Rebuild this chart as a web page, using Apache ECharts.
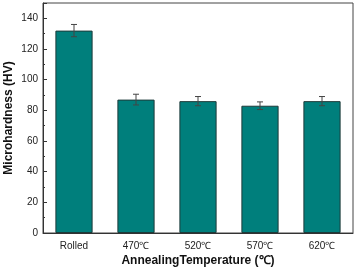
<!DOCTYPE html>
<html><head><meta charset="utf-8">
<script src="https://cdn.jsdelivr.net/npm/echarts@6/dist/echarts.min.js"></script>
<style>html,body{margin:0;padding:0;background:#fff}#c{width:357px;height:269px}</style>
</head><body><div id="c"></div>
<script>
const categories = ['Rolled', '470℃', '520℃', '570℃', '620℃'];
const hardness = [132, 87, 86, 83, 86];
const errors = [4, 3.5, 3, 2.5, 3];
const yTicks = [0, 20, 40, 60, 80, 100, 120, 140];

const chart = echarts.init(document.getElementById('c'));
const errData = categories.map((c, i) => [i, hardness[i] - errors[i], hardness[i] + errors[i]]);
chart.setOption({
  animation: false,
  grid: { left: 43, right: 4, top: 3, bottom: 36, show: true, borderColor: '#444', borderWidth: 1,
          outerBoundsMode: 'none', containLabel: false },
  xAxis: {
    type: 'category', data: categories,
    axisLine: { lineStyle: { color: '#333', width: 1 } },
    axisTick: { show: false },
    axisLabel: { color: '#222', fontSize: 10, fontFamily: 'Liberation Sans, Arial', margin: 8 },
    name: 'AnnealingTemperature (℃)', nameLocation: 'middle', nameGap: 22, nameMoveOverlap: false,
    nameTextStyle: { fontSize: 12, fontWeight: 'bold', color: '#111', fontFamily: 'Liberation Sans, Arial' }
  },
  yAxis: {
    type: 'value', min: 0, max: 150, interval: 20,
    axisLine: { show: true, lineStyle: { color: '#333', width: 1 } },
    axisTick: { show: true, inside: true, length: 4, lineStyle: { color: '#333' } },
    minorTick: { show: true, splitNumber: 2, length: 2, lineStyle: { color: '#333' } },
    splitLine: { show: false },
    axisLabel: { color: '#222', fontSize: 10, fontFamily: 'Liberation Sans, Arial', margin: 5,
      showMaxLabel: false, formatter: v => yTicks.includes(v) ? String(v) : '' },
    name: 'Microhardness (HV)', nameLocation: 'middle', nameGap: 28, nameMoveOverlap: false,
    nameTextStyle: { fontSize: 12, fontWeight: 'bold', color: '#111', fontFamily: 'Liberation Sans, Arial' }
  },
  series: [
    {
      type: 'bar', data: hardness, barWidth: '60%',
      itemStyle: { color: '#007f7c', borderColor: '#1d3b3a', borderWidth: 1 }
    },
    {
      type: 'custom', data: errData, z: 10,
      renderItem: function (params, api) {
        const x = api.value(0);
        const lo = api.coord([x, api.value(1)]);
        const hi = api.coord([x, api.value(2)]);
        const w = 3;
        const style = { stroke: '#444', lineWidth: 1 };
        return { type: 'group', children: [
          { type: 'line', shape: { x1: lo[0], y1: lo[1], x2: hi[0], y2: hi[1] }, style },
          { type: 'line', shape: { x1: hi[0] - w, y1: hi[1], x2: hi[0] + w, y2: hi[1] }, style },
          { type: 'line', shape: { x1: lo[0] - w, y1: lo[1], x2: lo[0] + w, y2: lo[1] }, style }
        ]};
      }
    }
  ]
});
</script></body></html>
